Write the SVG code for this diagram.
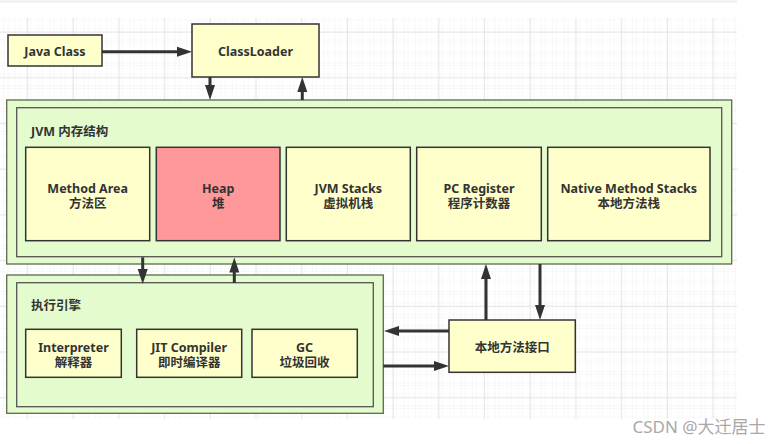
<svg xmlns="http://www.w3.org/2000/svg" width="783" height="444" viewBox="0 0 783 444">
<style>
.t{font-family:"Noto Sans","Noto Sans CJK SC",sans-serif;font-weight:bold;font-size:12.5px;fill:#333;text-anchor:middle;dominant-baseline:central}
.tl{text-anchor:start}
.box{fill:#ffffcc;stroke:#333;stroke-width:1.5}
.heap{fill:#ff9999;stroke:#333;stroke-width:1.5}
.outer{fill:#e3fbcd;stroke:#5a6a50;stroke-width:1.3}
.inner{fill:#e3fbcd;stroke:#555;stroke-width:1.3}
.c line{stroke:#333;stroke-width:3;marker-end:url(#ah)}
</style>
<defs>
<pattern id="gm" width="11.43" height="11.43" patternUnits="userSpaceOnUse" x="4.3" y="8.9">
<path d="M11.43 0V11.43M0 11.43H11.43" fill="none" stroke="#f1f1f1" stroke-width="1"/>
</pattern>
<pattern id="gM" width="45.7" height="45.7" patternUnits="userSpaceOnUse" x="27.1" y="31.7">
<rect width="45.7" height="45.7" fill="url(#gm)"/>
<path d="M0.5 0V45.7M0 0.5H45.7" fill="none" stroke="#e6e6e6" stroke-width="1"/>
</pattern>
<marker id="ah" markerUnits="userSpaceOnUse" markerWidth="16" markerHeight="10" refX="6" refY="5" orient="auto" overflow="visible">
<path d="M0,0 L15,5 L0,10 z" fill="#333"/>
</marker>
</defs>
<rect width="783" height="444" fill="#fff"/>
<line x1="0" y1="1.5" x2="737" y2="1.5" stroke="#eeeeee" stroke-width="2"/>
<rect x="0" y="18" width="737" height="401" fill="url(#gm)"/>
<rect x="0" y="18" width="737" height="401" fill="url(#gM)"/>

<g id="jvm">
<rect class="outer" x="6.7" y="100" width="725" height="164"/>
<rect class="inner" x="16.7" y="107.7" width="705" height="149"/>
<text class="t tl" x="31" y="131">JVM 内存结构</text>
</g>
<g id="exec">
<rect class="outer" x="6.7" y="275" width="376.6" height="138.3"/>
<rect class="inner" x="16.7" y="282.7" width="356.6" height="124"/>
<text class="t tl" x="31" y="305.5">执行引擎</text>
</g>

<g id="javaclass"><rect class="box" x="8" y="35" width="94" height="31"/><text class="t" x="55" y="51">Java Class</text></g>
<g id="classloader"><rect class="box" x="192" y="24" width="127" height="53"/><text class="t" x="255.5" y="51.5">ClassLoader</text></g>

<g id="methodarea"><rect class="box" x="25.7" y="147.3" width="124" height="93.4"/><text class="t" x="87.7" y="188">Method Area</text><text class="t" x="87.7" y="203.5">方法区</text></g>
<g id="heap"><rect class="heap" x="156.3" y="147.3" width="123.7" height="93.4"/><text class="t" x="218.2" y="188">Heap</text><text class="t" x="218.2" y="203.5">堆</text></g>
<g id="jvmstacks"><rect class="box" x="286.3" y="147.3" width="124" height="93.4"/><text class="t" x="348.3" y="188">JVM Stacks</text><text class="t" x="348.3" y="203.5">虚拟机栈</text></g>
<g id="pcregister"><rect class="box" x="416.7" y="147.3" width="124.6" height="93.4"/><text class="t" x="479" y="188">PC Register</text><text class="t" x="479" y="203.5">程序计数器</text></g>
<g id="nativestacks"><rect class="box" x="547.7" y="147.3" width="162.3" height="93.4"/><text class="t" x="628.8" y="188">Native Method Stacks</text><text class="t" x="628.8" y="203.5">本地方法栈</text></g>

<g id="interpreter"><rect class="box" x="25.7" y="329.3" width="95.6" height="48"/><text class="t" x="73.5" y="347.3">Interpreter</text><text class="t" x="73.5" y="362.7">解释器</text></g>
<g id="jit"><rect class="box" x="136.7" y="329.3" width="105" height="48"/><text class="t" x="189.2" y="347.3">JIT Compiler</text><text class="t" x="189.2" y="362.7">即时编译器</text></g>
<g id="gc"><rect class="box" x="252" y="329.3" width="105.3" height="48"/><text class="t" x="304.6" y="347.3">GC</text><text class="t" x="304.6" y="362.7">垃圾回收</text></g>

<g id="nativeinterface"><rect class="box" x="449" y="320" width="126.3" height="52.3"/><text class="t" x="512.2" y="347.5">本地方法接口</text></g>

<g id="connectors" class="c">
<line x1="102" y1="51.7" x2="183" y2="51.7"/>
<line x1="210" y1="77" x2="210" y2="91"/>
<line x1="302.3" y1="100" x2="302.3" y2="86"/>
<line x1="142.7" y1="257.3" x2="142.7" y2="275"/>
<line x1="234.3" y1="283" x2="234.3" y2="266.5"/>
<line x1="486" y1="320" x2="486" y2="273"/>
<line x1="540" y1="264" x2="540" y2="311"/>
<line x1="449" y1="331" x2="393" y2="331"/>
<line x1="383.3" y1="366" x2="440" y2="366"/>
</g>

<text x="699" y="426" font-family="'Noto Sans','Noto Sans CJK SC',sans-serif" font-size="17" fill="#a8a8a8" text-anchor="middle" dominant-baseline="central">CSDN @大迁居士</text>
</svg>
